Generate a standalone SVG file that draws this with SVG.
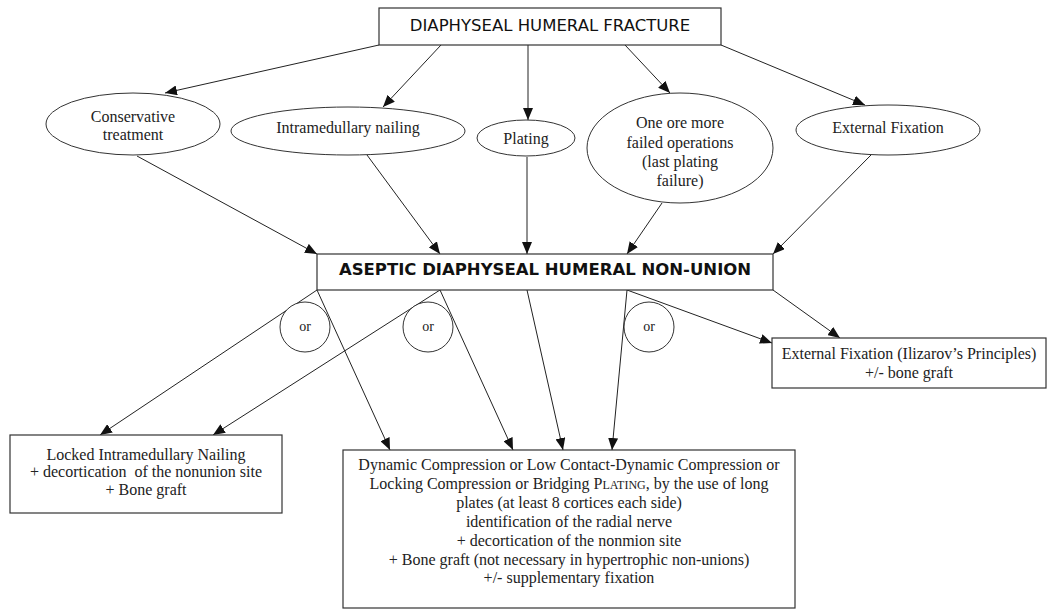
<svg xmlns="http://www.w3.org/2000/svg" width="1049" height="609" viewBox="0 0 1049 609">
<defs>
<marker id="ah" markerWidth="12" markerHeight="10" refX="12" refY="5" orient="auto" markerUnits="userSpaceOnUse">
<path d="M0,0 L12,5 L0,10 z" fill="#111"/>
</marker>
<style>
.box{fill:#fff;stroke:#333;stroke-width:1.2}
.ell{fill:#fff;stroke:#333;stroke-width:1}
.c{stroke:#222;stroke-width:1;fill:none;marker-end:url(#ah)}
.s{font-family:"Liberation Serif","Times New Roman",serif;font-size:16px;fill:#222;text-anchor:middle}
.h{font-family:"DejaVu Sans",Verdana,sans-serif;font-size:16.5px;fill:#111;text-anchor:middle}
.hb{font-family:"DejaVu Sans",Verdana,sans-serif;font-size:16.5px;font-weight:bold;fill:#111;text-anchor:middle}
</style>
</defs>
<rect width="1049" height="609" fill="#fff"/>

<g id="connectors">
<line class="c" x1="379" y1="45" x2="165" y2="93"/>
<line class="c" x1="441" y1="45" x2="383" y2="107"/>
<line class="c" x1="528" y1="45" x2="528" y2="120"/>
<line class="c" x1="625" y1="45" x2="670" y2="93"/>
<line class="c" x1="721" y1="45" x2="865" y2="105"/>
<line class="c" x1="137" y1="156" x2="317" y2="254"/>
<line class="c" x1="367" y1="155" x2="440" y2="254"/>
<line class="c" x1="527" y1="157" x2="527" y2="254"/>
<line class="c" x1="662" y1="203" x2="627" y2="254"/>
<line class="c" x1="871" y1="155" x2="773" y2="254"/>
<line class="c" x1="317" y1="290" x2="100" y2="435"/>
<line class="c" x1="317" y1="290" x2="390" y2="450"/>
<line class="c" x1="440" y1="290" x2="213" y2="435"/>
<line class="c" x1="440" y1="290" x2="513" y2="450"/>
<line class="c" x1="527" y1="290" x2="563" y2="450"/>
<line class="c" x1="627" y1="290" x2="612" y2="450"/>
<line class="c" x1="627" y1="290" x2="772" y2="343"/>
<line class="c" x1="773" y1="290" x2="840" y2="338"/>
</g>

<g id="n-fracture">
<rect class="box" x="379" y="8" width="342" height="37"/>
<text class="h" x="550" y="31">DIAPHYSEAL HUMERAL FRACTURE</text>
</g>

<g id="n-conservative">
<ellipse class="ell" cx="133" cy="124" rx="87" ry="31"/>
<text class="s" x="133" y="122">Conservative</text>
<text class="s" x="133" y="140">treatment</text>
</g>

<g id="n-nailing">
<ellipse class="ell" cx="348" cy="131" rx="117" ry="24"/>
<text class="s" x="348" y="133">Intramedullary nailing</text>
</g>

<g id="n-plating">
<ellipse class="ell" cx="526" cy="138" rx="49" ry="18"/>
<text class="s" x="526" y="144">Plating</text>
</g>

<g id="n-failed">
<ellipse class="ell" cx="680" cy="148" rx="93" ry="55"/>
<text class="s" x="680" y="128">One ore more</text>
<text class="s" x="680" y="148">failed operations</text>
<text class="s" x="680" y="167">(last plating</text>
<text class="s" x="680" y="186">failure)</text>
</g>

<g id="n-extfix">
<ellipse class="ell" cx="888" cy="130" rx="92" ry="25"/>
<text class="s" x="888" y="133">External Fixation</text>
</g>

<g id="n-nonunion">
<rect class="box" x="317" y="254" width="456" height="36"/>
<text class="hb" x="545" y="275">ASEPTIC DIAPHYSEAL HUMERAL NON-UNION</text>
</g>

<g id="or1">
<circle class="ell" cx="305" cy="327" r="25"/>
<text class="s" x="305" y="331" style="font-size:14px">or</text>
</g>
<g id="or2">
<circle class="ell" cx="428" cy="327" r="25"/>
<text class="s" x="428" y="331" style="font-size:14px">or</text>
</g>
<g id="or3">
<circle class="ell" cx="649" cy="327" r="25"/>
<text class="s" x="649" y="331" style="font-size:14px">or</text>
</g>

<g id="n-locked">
<rect class="box" x="10" y="435" width="272" height="78"/>
<text class="s" x="146" y="460">Locked Intramedullary Nailing</text>
<text class="s" x="146" y="477" xml:space="preserve">+ decortication  of the nonunion site</text>
<text class="s" x="146" y="495">+ Bone graft</text>
</g>

<g id="n-plate">
<rect class="box" x="343" y="450" width="452" height="158"/>
<text class="s" x="569" y="470">Dynamic Compression or Low Contact-Dynamic Compression or</text>
<text class="s" x="569" y="489">Locking Compression or Bridging P<tspan style="font-size:12px">LATING</tspan>, by the use of long</text>
<text class="s" x="569" y="508">plates (at least 8 cortices each side)</text>
<text class="s" x="569" y="527">identification of the radial nerve</text>
<text class="s" x="569" y="546">+ decortication of the nonmion site</text>
<text class="s" x="569" y="565">+ Bone graft (not necessary in hypertrophic non-unions)</text>
<text class="s" x="569" y="583">+/- supplementary fixation</text>
</g>

<g id="n-ilizarov">
<rect class="box" x="772" y="338" width="274" height="50"/>
<text class="s" x="909" y="359">External Fixation (Ilizarov’s Principles)</text>
<text class="s" x="909" y="378">+/- bone graft</text>
</g>
</svg>
